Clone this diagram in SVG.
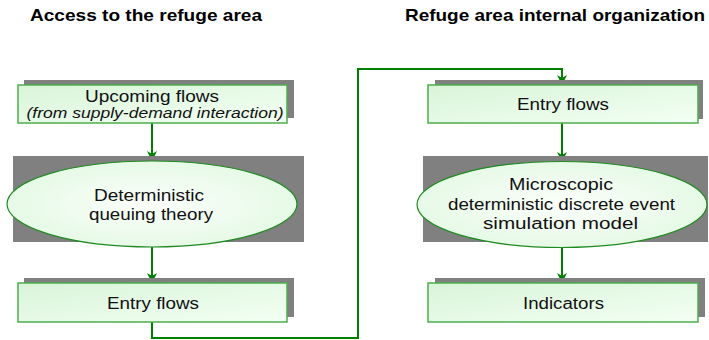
<svg xmlns="http://www.w3.org/2000/svg" width="709" height="340" viewBox="0 0 709 340">
  <style>
    .shadow { fill: #808080; }
    .box { fill: url(#boxFill); stroke: #4cae4c; stroke-width: 1.5; }
    .oval { fill: url(#ovalFill); stroke: #1f8a1f; stroke-width: 1.2; }
    .lbl { font-family: "Liberation Sans", Arial, sans-serif; font-size: 16px; fill: #111; text-anchor: middle; }
    .sub { font-family: "Liberation Sans", Arial, sans-serif; font-size: 14px; font-style: italic; fill: #111; text-anchor: middle; }
    .head { font-family: "Liberation Sans", Arial, sans-serif; font-size: 17px; font-weight: bold; fill: #000; }
    .link { fill: none; stroke: #008000; stroke-width: 2; }
  </style>
  <defs>
    <linearGradient id="boxFill" x1="0" y1="0" x2="1" y2="1">
      <stop offset="0" stop-color="#d9f4d9"/>
      <stop offset="1" stop-color="#f3fff3"/>
    </linearGradient>
    <radialGradient id="ovalFill" cx="0.5" cy="0.5" r="0.6">
      <stop offset="0" stop-color="#fbfffb"/>
      <stop offset="1" stop-color="#e2f8e2"/>
    </radialGradient>
    <marker id="arrow" viewBox="0 0 10 10" refX="9" refY="5" markerWidth="5" markerHeight="5" markerUnits="strokeWidth" orient="auto">
      <path d="M0,0 L10,5 L0,10 L3,5 z" fill="#008000"/>
    </marker>
  </defs>

  <rect width="709" height="340" fill="#ffffff"/>

  <!-- column headings -->
  <text class="head" x="30" y="21" textLength="232" lengthAdjust="spacingAndGlyphs">Access to the refuge area</text>
  <text class="head" x="405" y="21" textLength="300" lengthAdjust="spacingAndGlyphs">Refuge area internal organization</text>

  <!-- connectors -->
  <g id="connectors">
    <path class="link" d="M152,123 L152,160" marker-end="url(#arrow)"/>
    <path class="link" d="M152,247 L152,282" marker-end="url(#arrow)"/>
    <path class="link" d="M152,322 L152,338 L358,338 L358,69 L562,69 L562,84" marker-end="url(#arrow)"/>
    <path class="link" d="M562,123 L562,161" marker-end="url(#arrow)"/>
    <path class="link" d="M562,247 L562,282" marker-end="url(#arrow)"/>
  </g>

  <!-- left column -->
  <g id="upcoming-flows">
    <rect class="shadow" x="24" y="80" width="270" height="38"/>
    <rect class="box" x="18" y="85" width="269" height="38"/>
    <text class="lbl" x="152" y="102" textLength="134" lengthAdjust="spacingAndGlyphs">Upcoming flows</text>
    <text class="sub" x="155" y="118" textLength="257" lengthAdjust="spacingAndGlyphs">(from supply-demand interaction)</text>
  </g>

  <g id="queuing-theory">
    <rect class="shadow" x="13" y="156" width="291" height="86"/>
    <ellipse class="oval" cx="152" cy="204" rx="145" ry="43"/>
    <text class="lbl" x="149" y="201" textLength="110" lengthAdjust="spacingAndGlyphs">Deterministic</text>
    <text class="lbl" x="151" y="220" textLength="124" lengthAdjust="spacingAndGlyphs">queuing theory</text>
  </g>

  <g id="entry-flows-left">
    <rect class="shadow" x="24" y="278" width="270" height="39"/>
    <rect class="box" x="18" y="283" width="269" height="39"/>
    <text class="lbl" x="153" y="309" textLength="92" lengthAdjust="spacingAndGlyphs">Entry flows</text>
  </g>

  <!-- right column -->
  <g id="entry-flows-right">
    <rect class="shadow" x="435" y="80" width="268" height="39"/>
    <rect class="box" x="428" y="85" width="270" height="38"/>
    <text class="lbl" x="563" y="110" textLength="92" lengthAdjust="spacingAndGlyphs">Entry flows</text>
  </g>

  <g id="simulation-model">
    <rect class="shadow" x="423" y="156" width="285" height="86"/>
    <ellipse class="oval" cx="562" cy="204.5" rx="145" ry="43"/>
    <text class="lbl" x="561" y="190" textLength="104" lengthAdjust="spacingAndGlyphs">Microscopic</text>
    <text class="lbl" x="561.5" y="210" textLength="227" lengthAdjust="spacingAndGlyphs">deterministic discrete event</text>
    <text class="lbl" x="560.5" y="229" textLength="155" lengthAdjust="spacingAndGlyphs">simulation model</text>
  </g>

  <g id="indicators">
    <rect class="shadow" x="435" y="278" width="270" height="39"/>
    <rect class="box" x="428" y="283" width="270" height="39"/>
    <text class="lbl" x="563.5" y="309" textLength="81" lengthAdjust="spacingAndGlyphs">Indicators</text>
  </g>
</svg>
